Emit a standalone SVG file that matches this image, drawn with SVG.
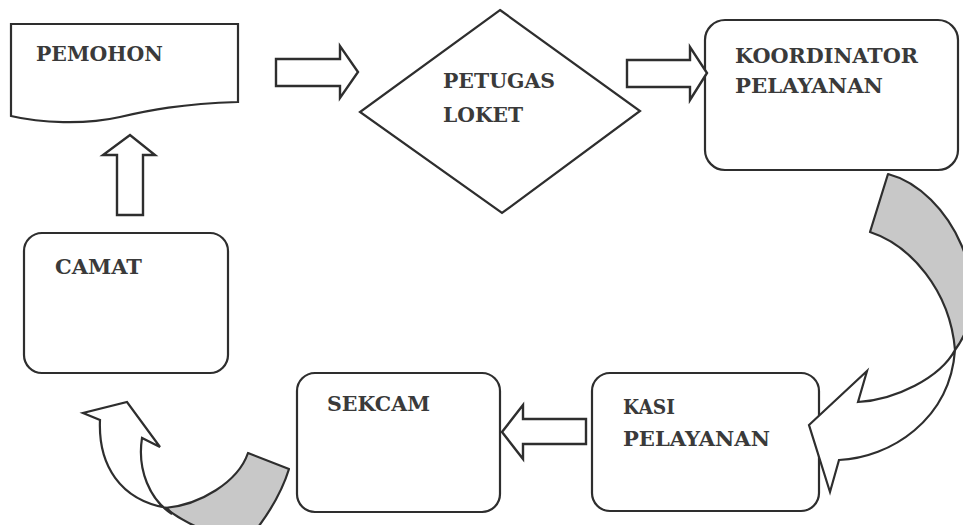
<svg xmlns="http://www.w3.org/2000/svg" width="963" height="525" viewBox="0 0 963 525">
<style>
.node{fill:#fff;stroke:#2e2e2e;stroke-width:2.2}
.blk{fill:#fff;stroke:#2e2e2e;stroke-width:2.4;stroke-linejoin:miter}
.back{fill:#c8c8c8;stroke:#2e2e2e;stroke-width:2.2;stroke-linejoin:round}
.front{fill:#fff;stroke:#2e2e2e;stroke-width:2.2;stroke-linejoin:miter}
.lbl{font-family:"DejaVu Serif","Liberation Serif",serif;font-weight:bold;font-size:21px;fill:#3a3a3a}
</style>
<rect width="963" height="525" fill="#fff"/>
<g id="pemohon">
<path class="node" d="M11,24 H238 V102 C180,104 150,110 120,117 C85,125 40,123 11,116 Z"/>
<text class="lbl" x="36" y="61" textLength="127" lengthAdjust="spacingAndGlyphs">PEMOHON</text>
</g>
<g id="petugas-loket">
<path class="node" d="M500,10 L640,111 L502,213 L360,112 Z"/>
<text class="lbl" x="443" y="88" textLength="112" lengthAdjust="spacingAndGlyphs">PETUGAS</text>
<text class="lbl" x="443" y="122" textLength="80" lengthAdjust="spacingAndGlyphs">LOKET</text>
</g>
<g id="koordinator">
<rect class="node" x="705" y="20" width="253" height="150" rx="20"/>
<text class="lbl" x="735" y="63" textLength="183" lengthAdjust="spacingAndGlyphs">KOORDINATOR</text>
<text class="lbl" x="735" y="93" textLength="148" lengthAdjust="spacingAndGlyphs">PELAYANAN</text>
</g>
<g id="kasi">
<rect class="node" x="592" y="373" width="227" height="138" rx="18"/>
<text class="lbl" x="623" y="414" textLength="52" lengthAdjust="spacingAndGlyphs">KASI</text>
<text class="lbl" x="623" y="446" textLength="147" lengthAdjust="spacingAndGlyphs">PELAYANAN</text>
</g>
<g id="sekcam">
<rect class="node" x="297" y="373" width="203" height="139" rx="18"/>
<text class="lbl" x="327" y="411" textLength="103" lengthAdjust="spacingAndGlyphs">SEKCAM</text>
</g>
<g id="camat">
<rect class="node" x="24" y="233" width="204" height="140" rx="18"/>
<text class="lbl" x="55" y="274" textLength="87" lengthAdjust="spacingAndGlyphs">CAMAT</text>
</g>
<g id="connectors">
<path class="blk" d="M276,59 H340 V46 L358,72 L340,98 V86 H276 Z"/>
<path class="blk" d="M627,60 H690 V47 L707,73 L690,100 V87 H627 Z"/>
<path class="blk" d="M586,419 H523 V405 L502,432 L523,459 V444 H586 Z"/>
<path class="blk" d="M117,215 V155 H103 L130,135 L155,155 H143 V215 Z"/>
<path class="back" d="M888,174 L870,232 C910,245 950,290 955,350 C1000,290 950,190 888,174 Z"/>
<path class="front" d="M955,350 C940,378 895,400 858,402 L867,371 L809,425 L830,492 L839,460 C890,458 950,420 955,350 Z"/>
<path class="back" d="M165,508 C200,505 238,482 248,453 L289,469 C281,495 268,515 252,535 C225,540 195,530 165,508 Z"/>
<path class="front" d="M167,508 C120,500 98,465 100,420 L83,413 L127,402 L160,447 L142,438 C137,470 150,500 172,514 Z"/>
</g>
</svg>
